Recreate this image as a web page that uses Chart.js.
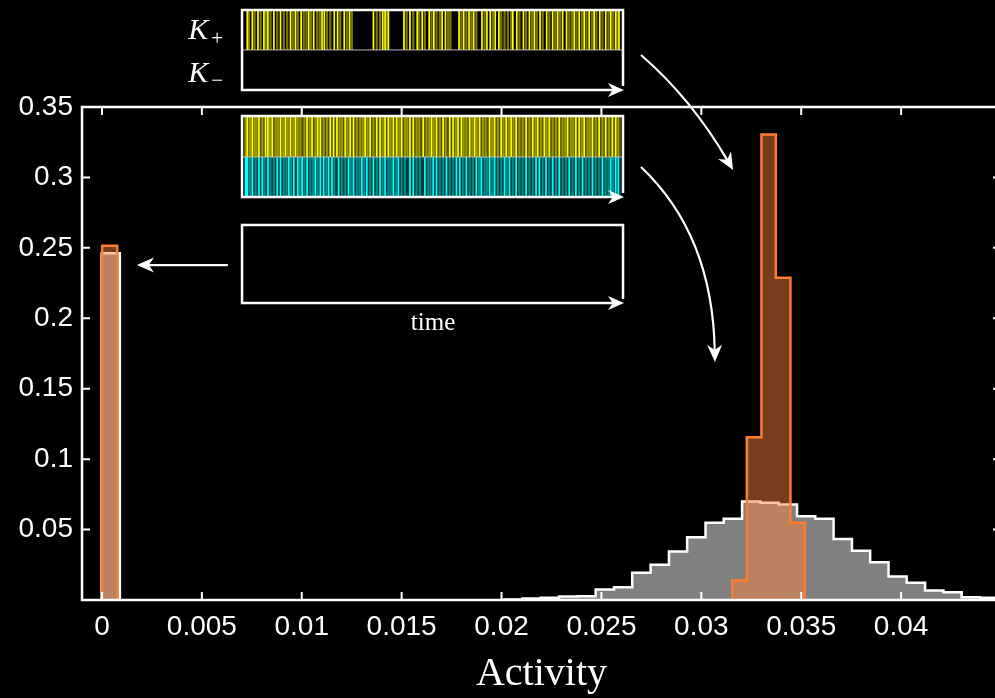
<!DOCTYPE html>
<html>
<head>
<meta charset="utf-8">
<script src="https://cdn.jsdelivr.net/npm/chart.js@4.4.1/dist/chart.umd.min.js"></script>
<style>
  html, body { margin: 0; padding: 0; background: #000; overflow: hidden; }
  canvas { display: block; }
</style>
</head>
<body>
<canvas id="c" width="1006" height="698"></canvas>
<script>
// ---------------- data ----------------
const xTickValues = [0, 0.005, 0.01, 0.015, 0.02, 0.025, 0.03, 0.035, 0.04];
const xTickLabels = ['0', '0.005', '0.01', '0.015', '0.02', '0.025', '0.03', '0.035', '0.04'];
const yTickValues = [0.05, 0.1, 0.15, 0.2, 0.25, 0.3, 0.35];
const yTickLabels = ['0.05', '0.1', '0.15', '0.2', '0.25', '0.3', '0.35'];
const xAxisTitle = 'Activity';

// gray histogram (white outline)
const grayZeroEdges = [-0.00002, 0.000896];
const grayZeroValues = [0.2462];
const grayEdges = [0.02013, 0.02105, 0.02196, 0.02288, 0.02380, 0.02471, 0.02563, 0.02654,
                   0.02746, 0.02838, 0.02929, 0.03021, 0.03112, 0.03204, 0.03296, 0.03387,
                   0.03479, 0.03570, 0.03662, 0.03754, 0.03845, 0.03937, 0.04028, 0.04120,
                   0.04212, 0.04303, 0.04395, 0.04486, 0.04578];
const grayValues = [0.0003, 0.0011, 0.0016, 0.0025, 0.0027, 0.0075, 0.0091, 0.0193,
                    0.0250, 0.0344, 0.0446, 0.0548, 0.0576, 0.0699, 0.0690, 0.0678,
                    0.0595, 0.0576, 0.0433, 0.0350, 0.0268, 0.0167, 0.0122, 0.0067,
                    0.0055, 0.0020, 0.0016, 0.0008];

// orange histogram (translucent)
const orangeZeroEdges = [0.00001, 0.00076];
const orangeZeroValues = [0.2515];
const orangeEdges = [0.03155, 0.03228, 0.03301, 0.03373, 0.03446, 0.03518];
const orangeValues = [0.0138, 0.1156, 0.3305, 0.2287, 0.0548];

// inset spike rasters (time units along the strip)
const rasterTimeRange = [190, 1326];
const kPlusBright = [200,215,232,250,262,280,300,330,345,362,385,400,425,432,462,472,492,508,580,608,615,625,672,690,712,727,748,762,787,797,838,852,868,882,907,922,932,947,958,1000,1012,1032,1050,1065,1082,1102,1120,1135,1150,1162,1185,1200,1215,1230,1245,1262,1280,1295,1310,1320];
const kPlusDim = [205,222,240,256,270,290,310,320,337,352,370,378,392,410,418,440,450,480,500,515,590,600,620,680,700,718,735,755,770,780,805,812,845,860,875,890,915,940,965,975,985,995,1020,1040,1058,1072,1090,1110,1128,1142,1170,1178,1192,1208,1222,1238,1252,1270,1288,1302,1315];
const bothYellowBright = [200,215,235,255,262,275,300,315,330,345,380,395,412,420,450,460,470,495,510,520,555,570,590,600,615,625,640,650,665,690,700,730,755,770,790,810,820,835,845,870,885,900,930,945,965,980,995,1010,1040,1060,1075,1095,1110,1140,1165,1190,1200,1215,1240,1260,1280,1300,1310];
const bothYellowDim = [195,208,222,228,245,268,285,292,308,322,338,352,360,372,388,405,430,440,478,485,502,530,540,548,562,580,608,632,658,675,682,710,718,740,748,762,780,798,828,852,860,878,892,910,918,938,955,972,988,1002,1020,1030,1050,1068,1085,1102,1120,1130,1150,1158,1175,1182,1208,1225,1232,1250,1270,1290,1318];
const bothCyanBright = [195,200,215,235,245,262,290,300,325,340,352,365,380,405,420,430,445,455,475,505,520,545,560,580,600,615,640,655,690,700,735,760,770,800,830,840,860,890,905,930,945,975,990,1010,1040,1070,1080,1100,1120,1140,1170,1190,1210,1240,1270,1295,1310,1318];
const bothCyanDim = [208,225,252,270,280,310,318,332,358,372,390,398,412,438,462,485,495,512,530,538,552,570,590,608,625,632,648,665,675,710,720,745,752,780,790,810,820,850,870,880,898,915,922,938,955,965,982,1000,1020,1030,1050,1060,1090,1110,1130,1150,1160,1180,1200,1220,1230,1250,1260,1280,1288,1302];

// inset annotation placement (in axis units)
const insetX = [0.00701, 0.02608];
const box1Y = [0.4189, 0.3905, 0.3621];   // top, divider, bottom
const box2Y = [0.3436, 0.3145, 0.2861];
const box3Y = [0.2663, 0.2109];
const kPlusPos = [0.00432, 0.3983];
const kMinusPos = [0.00432, 0.3677];
const timeLabelPos = [0.01657, 0.1917];
const arrow1 = [[0.02698, 0.3869], [0.02950, 0.3560], [0.03159, 0.3053]];
const arrow2 = [[0.02698, 0.3074], [0.03058, 0.2591], [0.03068, 0.1690]];
const arrow3 = [[0.00630, 0.2378], [0.00175, 0.2378]];

// ---------------- helpers ----------------
function histPoints(edges, values) {
  const pts = [{ x: edges[0], y: 0 }];
  values.forEach((v, i) => pts.push({ x: edges[i], y: v }));
  pts.push({ x: edges[edges.length - 1], y: 0 });
  return pts;
}

const GRAY_FILL = '#808080';
const ORANGE_FILL = 'rgba(255,130,55,0.47)';
const ORANGE_LINE = 'rgba(255,125,45,1)';

function histDataset(edges, values, fill, line, order) {
  return {
    data: histPoints(edges, values),
    stepped: true,
    fill: 'origin',
    backgroundColor: fill,
    borderColor: line,
    borderWidth: 2.5,
    pointRadius: 0,
    pointHoverRadius: 0,
    tension: 0,
    order: order
  };
}

// ---------------- plugins ----------------
const framePlugin = {
  id: 'frame',
  afterDatasetsDraw(chart) {
    const { ctx, chartArea: a, scales: { x, y } } = chart;
    ctx.save();
    ctx.strokeStyle = '#ffffff';
    ctx.lineWidth = 2.5;
    ctx.strokeRect(a.left, a.top, a.right - a.left, a.bottom - a.top);
    ctx.lineWidth = 2;
    ctx.beginPath();
    xTickValues.forEach(v => {
      const px = x.getPixelForValue(v);
      ctx.moveTo(px, a.bottom); ctx.lineTo(px, a.bottom - 8);
      ctx.moveTo(px, a.top); ctx.lineTo(px, a.top + 8);
    });
    yTickValues.forEach(v => {
      const py = y.getPixelForValue(v);
      ctx.moveTo(a.left, py); ctx.lineTo(a.left + 8, py);
      ctx.moveTo(a.right, py); ctx.lineTo(a.right - 8, py);
    });
    ctx.stroke();
    ctx.restore();
  }
};

function arrowHead(ctx, tipX, tipY, dirX, dirY, len, half) {
  const n = Math.hypot(dirX, dirY);
  const ux = dirX / n, uy = dirY / n;
  const px = -uy, py = ux;
  const bx = tipX - ux * len, by = tipY - uy * len;
  const nx = tipX - ux * len * 0.7, ny = tipY - uy * len * 0.7;
  ctx.beginPath();
  ctx.moveTo(tipX, tipY);
  ctx.lineTo(bx + px * half, by + py * half);
  ctx.lineTo(nx, ny);
  ctx.lineTo(bx - px * half, by - py * half);
  ctx.closePath();
  ctx.fill();
}

const insetPlugin = {
  id: 'insets',
  afterDraw(chart) {
    const { ctx, scales: { x, y } } = chart;
    const X = v => x.getPixelForValue(v);
    const Y = v => y.getPixelForValue(v);
    const L = X(insetX[0]), R = X(insetX[1]);
    const tx = t => L + 2 + (t - rasterTimeRange[0]) / (rasterTimeRange[1] - rasterTimeRange[0]) * (R - L - 4);
    ctx.save();

    function raster(times, top, bot, color, width) {
      ctx.strokeStyle = color;
      ctx.lineWidth = width;
      ctx.beginPath();
      times.forEach(t => { const px = tx(t); ctx.moveTo(px, top); ctx.lineTo(px, bot); });
      ctx.stroke();
    }

    const b1t = Y(box1Y[0]), b1m = Y(box1Y[1]), b1b = Y(box1Y[2]);
    const b2t = Y(box2Y[0]), b2m = Y(box2Y[1]), b2b = Y(box2Y[2]);
    const b3t = Y(box3Y[0]), b3b = Y(box3Y[1]);

    raster(kPlusDim, b1t + 1, b1m, 'rgba(200,200,0,0.6)', 2.2);
    raster(kPlusBright, b1t + 1, b1m, 'rgba(255,255,0,1)', 1.7);

    ctx.fillStyle = 'rgba(80,80,0,1)';
    ctx.fillRect(L + 2, b2t + 1, R - L - 4, b2m - b2t - 1);
    ctx.fillStyle = 'rgba(0,60,60,1)';
    ctx.fillRect(L + 2, b2m, R - L - 4, b2b - b2m - 1);
    raster(bothYellowDim, b2t + 1, b2m, 'rgba(200,200,0,0.6)', 2);
    raster(bothYellowBright, b2t + 1, b2m, 'rgba(255,255,0,1)', 1.7);
    raster(bothCyanDim, b2m, b2b - 1, 'rgba(0,190,190,0.6)', 2);
    raster(bothCyanBright, b2m, b2b - 1, 'rgba(0,255,255,1)', 1.7);

    ctx.strokeStyle = 'rgba(200,200,200,0.9)';
    ctx.lineWidth = 1;
    ctx.beginPath();
    ctx.moveTo(L, b1m); ctx.lineTo(R, b1m);
    ctx.moveTo(L, b2m); ctx.lineTo(R, b2m);
    ctx.stroke();

    ctx.strokeStyle = '#ffffff';
    ctx.fillStyle = '#ffffff';
    ctx.lineWidth = 2.5;
    [[b1t, b1b], [b2t, b2b], [b3t, b3b]].forEach(([t, b]) => {
      ctx.beginPath();
      ctx.moveTo(R - 8, b);
      ctx.lineTo(L, b);
      ctx.lineTo(L, t);
      ctx.lineTo(R, t);
      ctx.lineTo(R, b - 4);
      ctx.stroke();
      arrowHead(ctx, R + 1, b, 1, 0, 16, 7);
    });

    ctx.lineWidth = 2.2;
    [arrow1, arrow2].forEach(a => {
      const p0 = [X(a[0][0]), Y(a[0][1])], c = [X(a[1][0]), Y(a[1][1])], p2 = [X(a[2][0]), Y(a[2][1])];
      const dx = p2[0] - c[0], dy = p2[1] - c[1];
      const n = Math.hypot(dx, dy);
      ctx.beginPath();
      ctx.moveTo(p0[0], p0[1]);
      ctx.quadraticCurveTo(c[0], c[1], p2[0] - dx / n * 10, p2[1] - dy / n * 10);
      ctx.stroke();
      arrowHead(ctx, p2[0], p2[1], dx, dy, 17, 7.5);
    });
    {
      const s = [X(arrow3[0][0]), Y(arrow3[0][1])], e = [X(arrow3[1][0]), Y(arrow3[1][1])];
      ctx.beginPath();
      ctx.moveTo(s[0], s[1]);
      ctx.lineTo(e[0] + 10, e[1]);
      ctx.stroke();
      arrowHead(ctx, e[0], e[1], -1, 0, 17, 7.5);
    }

    ctx.fillStyle = '#ffffff';
    ctx.textBaseline = 'alphabetic';
    ctx.textAlign = 'left';
    ctx.font = 'italic 30px "Liberation Serif"';
    const kpx = X(kPlusPos[0]), kpy = Y(kPlusPos[1]);
    const kmx = X(kMinusPos[0]), kmy = Y(kMinusPos[1]);
    ctx.fillText('K', kpx, kpy);
    ctx.fillText('K', kmx, kmy);
    ctx.font = '21px "Liberation Serif"';
    ctx.fillText('+', kpx + 23, kpy + 6);
    ctx.fillText('\u2212', kmx + 23, kmy + 5);
    ctx.font = '25px "Liberation Serif"';
    ctx.textAlign = 'center';
    ctx.fillText('time', X(timeLabelPos[0]), Y(timeLabelPos[1]));
    ctx.restore();
  }
};

// ---------------- chart ----------------
Chart.defaults.color = '#ffffff';
const tickFont = { family: '"Liberation Sans", Arial, sans-serif', size: 28 };

new Chart(document.getElementById('c'), {
  type: 'line',
  data: {
    datasets: [
      histDataset(orangeZeroEdges, orangeZeroValues, ORANGE_FILL, ORANGE_LINE, 1),
      histDataset(orangeEdges, orangeValues, ORANGE_FILL, ORANGE_LINE, 1),
      histDataset(grayZeroEdges, grayZeroValues, GRAY_FILL, '#ffffff', 2),
      histDataset(grayEdges, grayValues, GRAY_FILL, '#ffffff', 2)
    ]
  },
  options: {
    responsive: false,
    animation: false,
    events: [],
    layout: { padding: { left: 0, right: 5, top: 107, bottom: 0 } },
    plugins: { legend: { display: false }, tooltip: { enabled: false }, title: { display: false } },
    scales: {
      x: {
        type: 'linear',
        min: -0.001,
        max: 0.045,
        afterBuildTicks: s => { s.ticks = xTickValues.map(v => ({ value: v })); },
        afterFit: s => { s.height = 98; },
        grid: { display: false, drawTicks: false },
        border: { display: false },
        ticks: {
          autoSkip: false,
          maxRotation: 0,
          minRotation: 0,
          padding: 10,
          color: '#ffffff',
          font: tickFont,
          callback: (v, i) => xTickLabels[i]
        },
        title: {
          display: true,
          text: xAxisTitle,
          color: '#ffffff',
          font: { family: '"Liberation Serif", serif', size: 40 },
          padding: { top: 0, bottom: 0 }
        }
      },
      y: {
        type: 'linear',
        min: 0,
        max: 0.35,
        afterBuildTicks: s => { s.ticks = yTickValues.map(v => ({ value: v })); },
        afterFit: s => { s.width = 82; },
        grid: { display: false, drawTicks: false },
        border: { display: false },
        ticks: {
          autoSkip: false,
          padding: 9,
          color: '#ffffff',
          font: tickFont,
          callback: (v, i) => yTickLabels[i]
        }
      }
    }
  },
  plugins: [framePlugin, insetPlugin]
});
</script>
</body>
</html>
